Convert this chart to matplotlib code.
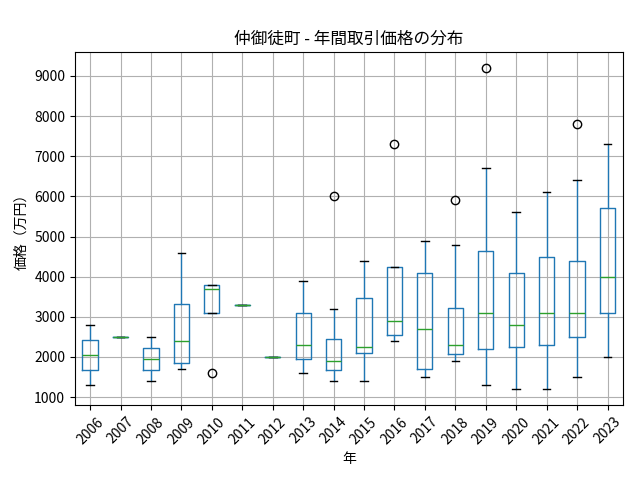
import matplotlib
matplotlib.use("Agg")
import matplotlib.pyplot as plt

plt.rcParams['font.family'] = ['Noto Sans CJK JP', 'DejaVu Sans']

years = ['2006', '2007', '2008', '2009', '2010', '2011', '2012', '2013', '2014',
         '2015', '2016', '2017', '2018', '2019', '2020', '2021', '2022', '2023']
# box statistics (万円)
whis_lo = [1300, 2500, 1400, 1700, 3100, 3300, 2000, 1600, 1400,
           1400, 2400, 1500, 1900, 1300, 1200, 1200, 1500, 2000]
q1 = [1680, 2500, 1680, 1850, 3100, 3300, 2000, 1950, 1670,
      2100, 2550, 1700, 2080, 2200, 2250, 2300, 2500, 3100]
med = [2040, 2500, 1940, 2400, 3700, 3300, 2000, 2300, 1900,
       2250, 2900, 2700, 2300, 3100, 2800, 3100, 3100, 4000]
q3 = [2420, 2500, 2220, 3320, 3800, 3300, 2000, 3100, 2450,
      3480, 4230, 4100, 3230, 4650, 4100, 4500, 4400, 5700]
whis_hi = [2800, 2500, 2500, 4600, 3800, 3300, 2000, 3900, 3200,
           4400, 4230, 4900, 4800, 6700, 5600, 6100, 6400, 7300]
outliers = [[], [], [], [], [1600], [], [], [], [6000],
            [], [7300], [], [5900], [9200], [], [], [7800], []]

stats = []
for i in range(len(years)):
    stats.append({'whislo': whis_lo[i], 'q1': q1[i], 'med': med[i],
                  'q3': q3[i], 'whishi': whis_hi[i], 'fliers': outliers[i],
                  'label': years[i]})

fig, ax = plt.subplots(figsize=(6.4, 4.8), dpi=100)
ax.bxp(stats, widths=0.5,
       boxprops=dict(color='#1f77b4'),
       whiskerprops=dict(color='#1f77b4'),
       medianprops=dict(color='#2ca02c'),
       capprops=dict(color='black'),
       flierprops=dict(marker='o', markerfacecolor='none',
                       markeredgecolor='black', markersize=6))
ax.grid(True)
ax.set_title('仲御徒町 - 年間取引価格の分布')
ax.set_xlabel('年')
ax.set_ylabel('価格（万円）')
plt.setp(ax.get_xticklabels(), rotation=45)
fig.subplots_adjust(left=0.117, right=0.973, top=0.892, bottom=0.156)
fig.savefig('out.png')
